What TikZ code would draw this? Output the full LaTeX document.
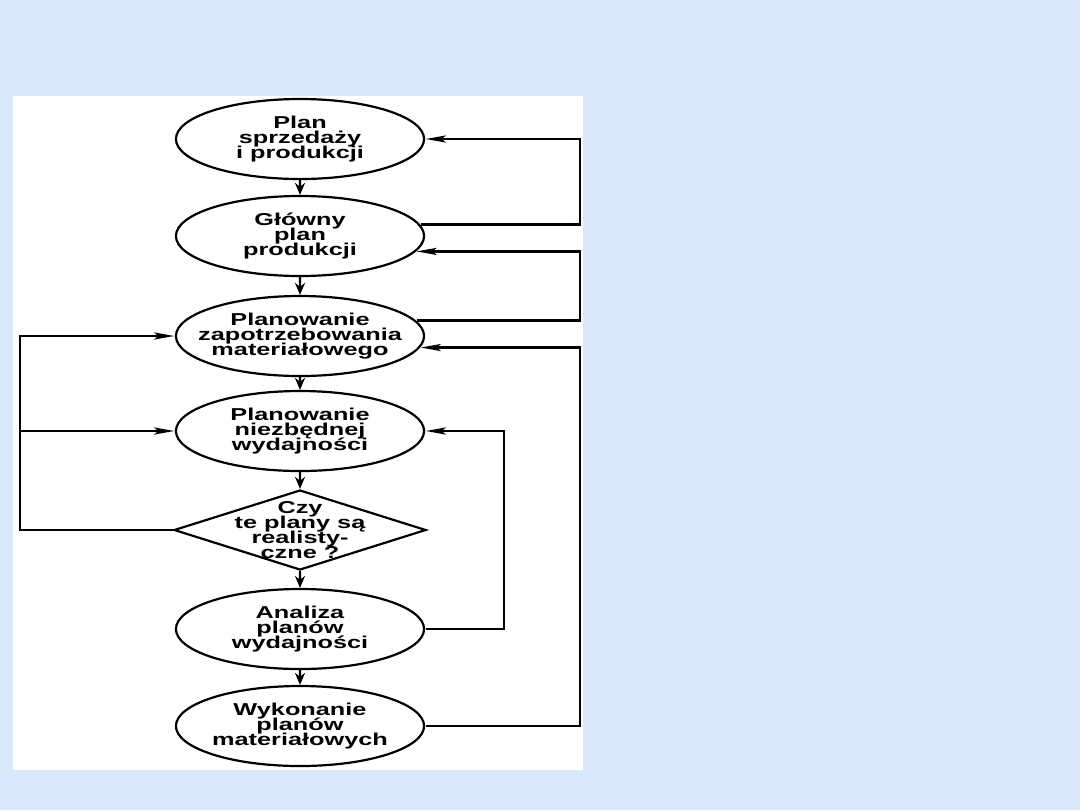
\documentclass[tikz,border=0pt]{standalone}
\usepackage{fontspec}
\setmainfont{Liberation Sans}
\usetikzlibrary{shapes.geometric, arrows.meta, positioning}
\definecolor{slidebg}{HTML}{DAE8FC}

\tikzset{
    wide/.style={xscale=1.47, transform shape, align=center,
        font={\fontsize{8.6pt}{7.5pt}\selectfont\bfseries\lineskiplimit=-20pt}},
    stage/.style={wide, ellipse, draw, line width=1.1pt, minimum width=84.4pt, minimum height=40pt,
        inner sep=-6pt},
    question/.style={diamond, draw, line width=1.1pt, minimum width=126pt, minimum height=40pt,
        inner sep=0pt},
    down/.style={line width=1.2pt, -{Stealth[length=6pt,width=5pt]}},
    back/.style={line width=1.3pt, -{Stealth[length=10pt,width=3.5pt,inset=2pt]}}
}

\begin{document}
\begin{tikzpicture}[x=0.5pt, y=-0.5pt]
    % slide and white panel
    \fill[slidebg] (0,0) rectangle (1080,810);
    \fill[white] (13,96) rectangle (583,770);
    \useasboundingbox (0,0) rectangle (1080,810);

    % rails
    \coordinate (railL) at (20,0);
    \coordinate (railM) at (504,0);
    \coordinate (railR) at (580,0);

    \node[stage] (sop) at (300,139) {Plan\\sprzedaży\\i produkcji};
    \node[stage] (mps) at (300,236) {Główny\\plan\\produkcji};
    \node[stage] (mrp) at (300,336) {Planowanie\\zapotrzebowania\\materiałowego};
    \node[stage] (crp) at (300,431) {Planowanie\\niezbędnej\\wydajności};
    \node[question, label={[wide]center:Czy\\te plany są\\realisty-\\czne ?}] (check) at (300,530) {};
    \node[stage] (review) at (300,629) {Analiza\\planów\\wydajności};
    \node[stage] (exec) at (300,726) {Wykonanie\\planów\\materiałowych};

    % main flow
    \draw[down] (sop) -- (mps);
    \draw[down] (mps) -- (mrp);
    \draw[down] (mrp) -- (crp);
    \draw[down] (crp) -- (check);
    \draw[down] (check) -- (review);
    \draw[down] (review) -- (exec);

    % feedback on the right
    \draw[back] (mps.8.5) -- (mps.8.5 -| railR) -- (sop.east -| railR) -- (sop.east);
    \draw[back] (mrp.11) -- (mrp.11 -| railR) -- (mps.-11 -| railR) -- (mps.-11);
    \draw[back] (exec.east) -- (exec.east -| railR) -- (mrp.-8.5 -| railR) -- (mrp.-8.5);
    \draw[back] (review.east) -- (review.east -| railM) -- (crp.east -| railM) -- (crp.east);

    % feedback on the left
    \draw[back] (check.west) -- (check.west -| railL) -- (mrp.west -| railL) -- (mrp.west);
    \draw[back] (crp.west -| railL) -- (crp.west);
\end{tikzpicture}
\end{document}
